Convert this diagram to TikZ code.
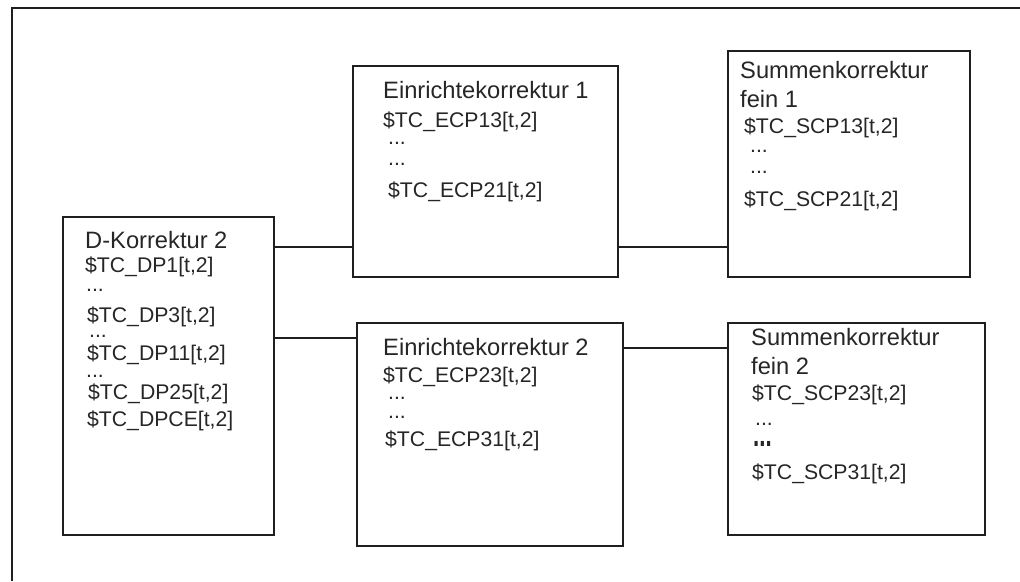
\documentclass[tikz,border=0pt]{standalone}
\usepackage{fontspec}
\setmainfont{Liberation Sans}
\begin{document}
\begin{tikzpicture}[x=1pt,y=-1pt,
  box/.style={draw=black!88, line width=2pt, rectangle, inner sep=0pt, outer sep=0pt, anchor=north west},
  wire/.style={draw=black!88, line width=2pt},
  ttl/.style={anchor=base west, inner sep=0pt, text=black!85, font=\fontsize{23.7}{26}\selectfont},
  var/.style={anchor=base west, inner sep=0pt, text=black!85, font=\fontsize{21.2}{24}\selectfont}]
\useasboundingbox (0,0) rectangle (1020,581);
% outer frame (open to the right and bottom)
\draw[wire] (11.5,581) -- (11.5,7.5) -- (1020,7.5);

% boxes
\node[box, minimum width=211, minimum height=318] (D)  at (63,217) {};
\node[box, minimum width=265, minimum height=211] (E1) at (353,66) {};
\node[box, minimum width=266, minimum height=223] (E2) at (357,323) {};
\node[box, minimum width=242, minimum height=226] (S1) at (728,51) {};
\node[box, minimum width=257, minimum height=212] (S2) at (728,323) {};

% connector levels
\coordinate (yA) at (0,247);
\coordinate (yB) at (0,338);
\coordinate (yC) at (0,348);
\draw[wire] (D.east |- yA) -- (E1.west |- yA);
\draw[wire] (D.east |- yB) -- (E2.west |- yB);
\draw[wire] (E1.east |- yA) -- (S1.west |- yA);
\draw[wire] (E2.east |- yC) -- (S2.west |- yC);

% D-Korrektur
\node[ttl] (d0) at (85,248) {D-Korrektur 2};
\node[var] (d1) at (85,272) {\$TC\_DP1[t,2]};
\node[var] (d2) at (86,291) {...};
\node[var] (d3) at (87,322) {\$TC\_DP3[t,2]};
\node[var] (d4) at (89,337) {...};
\node[var] (d5) at (87,360) {\$TC\_DP11[t,2]};
\node[var] (d6) at (86,377) {...};
\node[var] (d7) at (88,399) {\$TC\_DP25[t,2]};
\node[var] (d8) at (87,426) {\$TC\_DPCE[t,2]};

% Einrichtekorrektur 1
\node[ttl] (e10) at (383,98) {Einrichtekorrektur 1};
\node[var] (e11) at (383,127) {\$TC\_ECP13[t,2]};
\node[var] (e12) at (388,144) {...};
\node[var] (e13) at (388,165) {...};
\node[var] (e14) at (388,197) {\$TC\_ECP21[t,2]};

% Einrichtekorrektur 2
\node[ttl] (e20) at (383,355) {Einrichtekorrektur 2};
\node[var] (e21) at (383,382) {\$TC\_ECP23[t,2]};
\node[var] (e22) at (388,399) {...};
\node[var] (e23) at (388,418) {...};
\node[var] (e24) at (385,446) {\$TC\_ECP31[t,2]};

% Summenkorrektur fein 1
\node[ttl] (s10) at (740,78) {Summenkorrektur};
\node[ttl] (s11) at (740,107) {fein 1};
\node[var] (s12) at (744,133) {\$TC\_SCP13[t,2]};
\node[var] (s13) at (750,152) {...};
\node[var] (s14) at (750,173) {...};
\node[var] (s15) at (744,206) {\$TC\_SCP21[t,2]};

% Summenkorrektur fein 2
\node[ttl] (s20) at (751,345) {Summenkorrektur};
\node[ttl] (s21) at (751,374) {fein 2};
\node[var] (s22) at (752,400) {\$TC\_SCP23[t,2]};
\node[var] (s23) at (755,425) {...};
\node[var] (s24) at (753,446) {\scalebox{1.05}[1.6]{\bfseries ...}};
\node[var] (s25) at (752,479) {\$TC\_SCP31[t,2]};
\end{tikzpicture}
\end{document}
